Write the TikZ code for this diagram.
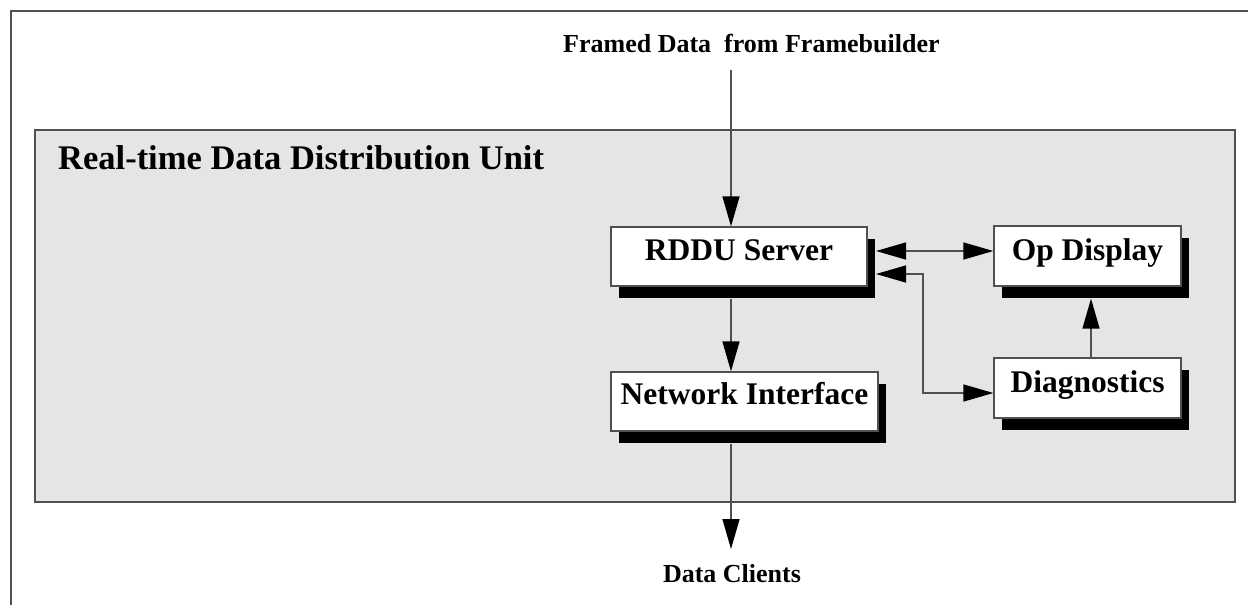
\documentclass[tikz,border=0pt]{standalone}
\usepackage{fontspec}
\setmainfont{Liberation Serif}
\usetikzlibrary{arrows.meta,shadows}
\definecolor{panel}{HTML}{E5E5E5}
\definecolor{edge}{HTML}{505050}
\tikzset{
  blk/.style={draw=edge, line width=1.3pt, fill=white, inner sep=0pt,
    font=\bfseries\fontsize{31.5}{36}\selectfont, text height=22pt, text depth=14pt,
    drop shadow={shadow xshift=8pt, shadow yshift=-12pt, fill=black, opacity=1}},
  conn/.style={draw=edge, line width=1.4pt, -{Triangle[length=30pt,width=17pt,fill=black,color=black]}},
  conn2/.style={draw=edge, line width=1.4pt, {Triangle[length=30pt,width=17pt,fill=black,color=black]}-{Triangle[length=30pt,width=17pt,fill=black,color=black]}},
  lbl/.style={font=\bfseries\fontsize{26}{30}\selectfont, inner sep=0pt},
}
\begin{document}
\begin{tikzpicture}[x=1pt,y=-1pt]
\useasboundingbox (0,0) rectangle (1248,605);
% outer frame (partly visible)
\draw[edge, line width=2pt] (11,605) -- (11,11) -- (1248,11);
% panel
\draw[edge, line width=2pt, fill=panel] (35,130) rectangle (1235,502);
\node[font=\bfseries\fontsize{34.5}{40}\selectfont, anchor=base west, inner sep=0pt] (title) at (58,169) {Real-time Data Distribution Unit};
% boxes
\node[blk, minimum width=256pt, minimum height=59pt] (rddu) at (739,256.5) {RDDU Server};
\node[blk, minimum width=267pt, minimum height=59pt, text depth=16.5pt] (net) at (744.5,401.5) {Network Interface};
\node[blk, minimum width=187pt, minimum height=60pt] (op) at (1087.5,256) {Op Display};
\node[blk, minimum width=187pt, minimum height=60pt] (diag) at (1087.5,388) {Diagnostics};
% labels
\node[lbl, anchor=base west] (src) at (563,52) {Framed Data\ \ from Framebuilder};
\node[lbl, anchor=base] (dst) at (732,582) {Data Clients};
% connectors
\coordinate (fin) at (731,70);
\coordinate (fout) at (731,549);
\draw[conn] (fin) -- (fin |- rddu.north);
\draw[conn] ([yshift=-12pt]rddu.south -| fin) -- (fin |- net.north);
\draw[conn] ([yshift=-12pt]net.south -| fin) -- (fout);
\coordinate (rtip1) at (876,251);
\coordinate (rtip2) at (876,274);
\coordinate (bend) at (923,274);
\draw[conn2] (rtip1) -- (rtip1 -| op.west);
\draw[conn2] (rtip2) -- (bend) |- (diag.west |- 0,393);
\coordinate (dx) at (1091,0);
\draw[conn] (diag.north -| dx) -- ([yshift=-12pt]op.south -| dx);
\end{tikzpicture}
\end{document}
